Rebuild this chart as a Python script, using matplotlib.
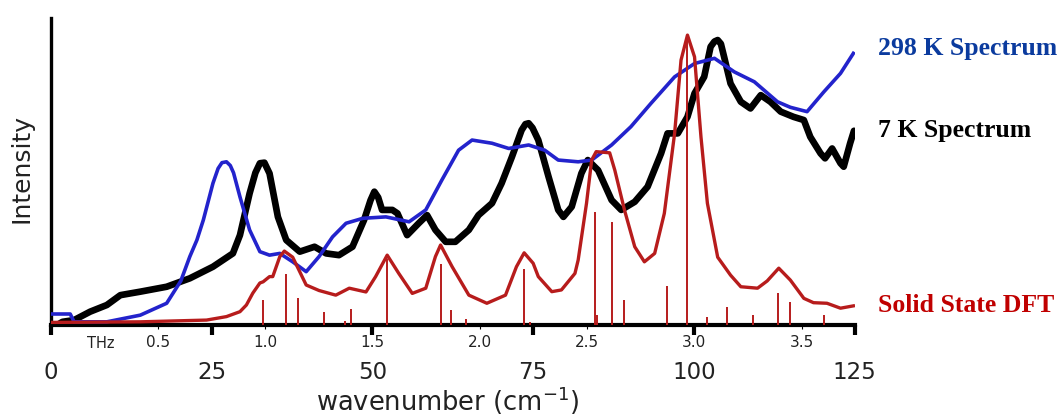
import matplotlib
matplotlib.use("Agg")
import matplotlib.pyplot as plt
import matplotlib.transforms as mtransforms
import numpy as np

# ---- data (wavenumber in cm^-1, intensity in arbitrary units, DFT max = 100) ----
dft_x = [0.1, 13.9, 24.2, 27.3, 29.4, 30.4, 31.4, 32.5, 33.0, 34.0, 34.5, 35.6, 36.3,
         37.6, 39.7, 41.7, 44.3, 46.4, 49.0, 50.5, 52.3, 54.1, 56.2, 58.3, 59.8, 60.6,
         62.4, 65.0, 67.8, 70.7, 72.4, 73.6, 75.0, 75.8, 77.9, 79.4, 81.5, 82.0, 83.3,
         84.1, 84.8, 86.9, 87.7, 89.2, 90.8, 92.3, 93.9, 95.4, 97.0, 98.0, 99.0, 100.1,
         101.1, 102.1, 103.7, 105.7, 107.3, 109.9, 111.4, 113.2, 115.0, 117.1, 118.6,
         120.7, 122.8, 124.8]
dft_y = [0.9, 1.1, 1.7, 2.9, 4.6, 6.9, 11.0, 14.5, 14.9, 16.7, 16.7, 23.6, 25.5,
         23.4, 13.8, 11.9, 10.3, 12.7, 11.4, 16.7, 24.1, 17.8, 10.9, 12.7, 23.6, 27.6,
         20.1, 10.3, 7.5, 10.3, 20.1, 24.9, 21.3, 16.7, 11.5, 12.1, 17.8, 22.4, 42.0,
         56.9, 59.8, 59.4, 53.4, 39.7, 27.0, 21.8, 24.7, 38.5, 66.1, 91.4, 100.0, 92.5,
         64.9, 42.0, 23.4, 17.2, 13.2, 12.7, 15.2, 19.6, 15.5, 9.2, 7.7,
         7.5, 5.8, 6.6]

stick_x = [33.0, 36.6, 38.4, 42.4, 45.7, 46.7, 52.3, 60.6, 62.2, 64.5, 73.6, 74.5,
           84.6, 85.0, 87.3, 89.1, 95.8, 99.0, 102.1, 105.1, 109.2, 113.1, 114.9, 120.3]
stick_y = [8.6, 17.6, 9.3, 4.5, 1.4, 5.5, 22.8, 21.0, 5.2, 2.1, 19.3, 1.0,
           39.0, 3.4, 35.5, 8.6, 13.4, 100.0, 2.8, 6.2, 3.4, 11.0, 7.9, 3.4]

rt_x = [0.1, 3.0, 3.6, 8.7, 13.9, 18.0, 20.2, 21.6, 22.7, 23.7, 25.2, 26.0, 26.6, 27.3,
        27.9, 28.4, 29.4, 30.9, 32.5, 34.0, 35.6, 37.6, 39.7, 41.7, 43.8, 45.9, 48.5, 52.1,
        55.7, 58.3, 60.8, 63.4, 65.5, 68.6, 71.2, 74.3, 76.8, 78.9, 82.0, 84.1, 87.2,
        90.2, 93.3, 97.0, 100.1, 103.2, 106.3, 109.4, 113.0, 115.0, 117.6, 120.2,
        122.8, 124.8]
rt_y = [3.8, 3.8, 1.1, 1.1, 3.4, 7.5, 15.2, 23.6, 29.3, 36.2, 48.9, 54.0, 56.0, 56.3,
        55.0, 52.5, 44.2, 32.8, 25.3, 24.1, 24.7, 21.8, 18.4, 23.6, 30.4, 35.1, 36.8, 37.3,
        35.6, 39.7, 50.0, 60.3, 63.8, 62.7, 60.9, 62.1, 60.3, 56.9, 56.3, 56.9, 62.1,
        68.4, 76.4, 85.6, 90.2, 92.0, 87.3, 83.9, 77.0, 75.1, 73.6, 80.4,
        86.8, 93.7]

lt_x = [0.3, 1.2, 1.8, 3.6, 6.1, 8.7, 10.8, 13.9, 18.0, 21.6, 25.2, 28.3, 29.4, 30.9,
        31.8, 32.5, 33.2, 34.0, 35.3, 36.6, 38.7, 41.0, 42.8, 44.8, 46.9, 48.7, 49.7,
        50.3, 50.9, 51.5, 53.1, 53.9, 55.4, 57.2, 58.5, 59.8, 61.4, 62.9, 65.0, 66.5,
        68.6, 70.1, 71.7, 73.2, 73.8, 74.3, 74.9, 75.8, 77.4, 78.9, 79.7, 81.0, 82.5,
        83.5, 85.1, 87.2, 88.7, 90.8, 92.8, 94.9, 95.9, 97.5, 99.0, 100.1, 101.6, 102.6,
        103.2, 103.7, 104.2, 104.7, 105.7, 107.3, 108.8, 110.4, 111.9, 113.5, 115.5,
        117.1, 118.1, 119.7, 120.4, 121.5, 122.8, 123.3, 124.3, 124.9]
lt_y = [0.0, 0.3, 1.1, 1.7, 4.6, 6.9, 10.3, 11.5, 13.2, 16.1, 20.1, 24.7, 31.0, 45.4,
        52.5, 55.8, 56.0, 52.3, 37.3, 29.3, 25.3, 27.0, 24.7, 24.1, 27.0, 36.2, 43.0,
        46.0, 44.0, 39.7, 39.7, 38.5, 31.0, 35.1, 37.9, 32.8, 28.7, 28.7, 32.8, 37.9,
        42.0, 48.9, 58.0, 67.2, 69.3, 69.6, 68.0, 63.8, 51.1, 39.7, 37.3, 40.8, 52.3,
        56.9, 53.4, 43.1, 39.7, 42.5, 47.7, 59.2, 66.1, 66.1, 71.8, 79.9, 85.6, 96.0,
        97.8, 98.3, 97.0, 92.5, 83.3, 77.0, 74.7, 79.3, 77.0, 73.6, 71.8,
        70.7, 64.9, 59.2, 57.5, 60.9, 55.8, 54.6, 62.7, 67.0]

cm_ticks = [0, 25, 50, 75, 100, 125]
thz_ticks = [0.5, 1.0, 1.5, 2.0, 2.5, 3.0, 3.5]
CM_PER_THZ = 33.356

BLUE = "#2323cc"
RED = "#b71c1c"
TXT = "#222222"

fig = plt.figure(figsize=(10.61, 4.17), dpi=100)
ax = fig.add_axes([0.048, 0.2206, 0.7575, 0.7362])

ax.plot(lt_x, lt_y, color="black", lw=4.8, solid_joinstyle="round",
        solid_capstyle="round", zorder=2)
ax.plot(rt_x, rt_y, color=BLUE, lw=2.6, solid_joinstyle="round", zorder=3)
ax.vlines(stick_x, 0, stick_y, color=RED, lw=1.4, zorder=4)
ax.plot(dft_x, dft_y, color=RED, lw=2.4, solid_joinstyle="round", zorder=4)

ax.set_xlim(0, 125)
ax.set_ylim(0, 105.9)

for s in ["top", "right"]:
    ax.spines[s].set_visible(False)
ax.spines["left"].set_linewidth(2.4)
ax.spines["bottom"].set_linewidth(3.0)
ax.set_yticks([])

ax.set_xticks(cm_ticks)
ax.set_xticklabels([str(t) for t in cm_ticks])
ax.set_xticks([t * CM_PER_THZ for t in thz_ticks], minor=True)
ax.set_xticklabels([f"{t:.1f}" for t in thz_ticks], minor=True)
ax.xaxis.remove_overlapping_locs = False
ax.tick_params(axis="x", which="major", length=7, width=3, pad=19,
               labelsize=16.5, labelcolor=TXT)
ax.tick_params(axis="x", which="minor", length=3, width=0.8, pad=4,
               labelsize=11, labelcolor=TXT)

trans = mtransforms.blended_transform_factory(ax.transData, ax.transAxes)
ax.text(7.7, -0.059, "THz", transform=trans, ha="center", va="center",
        fontsize=10.5, color=TXT)

fig.text(448 / 1061, 1 - 411 / 417, "wavenumber (cm$^{-1}$)", fontsize=18.5,
         color=TXT, ha="center", va="baseline")
fig.text(22 / 1061, 1 - 169 / 417, "Intensity", fontsize=18, color=TXT,
         rotation=90, ha="center", va="center")

fig.text(878 / 1061, 1 - 48 / 417, "298 K Spectrum", color="#0b3b9e",
         fontsize=18.5, fontweight="bold", family="Liberation Serif",
         ha="left", va="center")
fig.text(878 / 1061, 1 - 131 / 417, "7 K Spectrum", color="black",
         fontsize=18.5, fontweight="bold", family="Liberation Serif",
         ha="left", va="center")
fig.text(878 / 1061, 1 - 306 / 417, "Solid State DFT", color="#c00000",
         fontsize=18.5, fontweight="bold", family="Liberation Serif",
         ha="left", va="center")

fig.savefig("out.png", dpi=100)
